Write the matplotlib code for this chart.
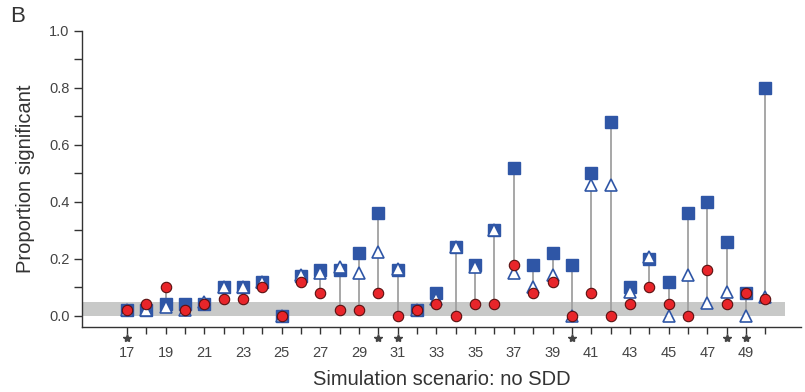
import numpy as np
import matplotlib.pyplot as plt
from matplotlib.ticker import MultipleLocator
import matplotlib.transforms as mtransforms

plt.rcParams['font.family'] = ['Liberation Sans', 'DejaVu Sans']

scenarios = list(range(17, 51))
# blue filled squares
squares = [0.02, 0.02, 0.04, 0.04, 0.04, 0.10, 0.10, 0.12, 0.00, 0.14,
           0.16, 0.16, 0.22, 0.36, 0.16, 0.02, 0.08, 0.24, 0.18, 0.30,
           0.52, 0.18, 0.22, 0.18, 0.50, 0.68, 0.10, 0.20, 0.12, 0.36,
           0.40, 0.26, 0.08, 0.80]
# open triangles
triangles = [0.02, 0.02, 0.03, 0.02, 0.05, 0.10, 0.10, 0.12, 0.00, 0.145,
             0.15, 0.17, 0.15, 0.225, 0.165, 0.02, 0.06, 0.24, 0.17, 0.30,
             0.15, 0.10, 0.145, 0.00, 0.46, 0.46, 0.085, 0.205, 0.00, 0.145,
             0.045, 0.085, 0.00, 0.065]
# red circles
circles = [0.02, 0.04, 0.10, 0.02, 0.04, 0.06, 0.06, 0.10, 0.00, 0.12,
           0.08, 0.02, 0.02, 0.08, 0.00, 0.02, 0.04, 0.00, 0.04, 0.04,
           0.18, 0.08, 0.12, 0.00, 0.08, 0.00, 0.04, 0.10, 0.04, 0.00,
           0.16, 0.04, 0.08, 0.06]
starred = [17, 30, 31, 40, 48, 49]

band_top = 0.047

fig = plt.figure(figsize=(8.05, 3.92), dpi=100)
ax = fig.add_axes([0.102, 0.166, 0.893, 0.755])

ax.fill_between([14.0, 51.0], 0, band_top, color='#c8c9c8', lw=0, zorder=0)

lo = np.minimum(np.minimum(squares, triangles), circles)
hi = np.maximum(np.maximum(squares, triangles), circles)
ax.vlines(scenarios, lo, hi, color='#a0a0a0', lw=1.3, zorder=1)

ax.plot(scenarios, squares, 's', ms=8, color='#2f56a6', mec='#2f56a6', zorder=2)
ax.plot(scenarios, triangles, '^', ms=8.5, mfc='white', mec='#2f56a6', mew=1.2, zorder=3)
ax.plot(scenarios, circles, 'o', ms=7.5, mfc='#e8252a', mec='#5a1010', mew=0.8, zorder=4)

# stars under selected scenarios
trans = mtransforms.blended_transform_factory(ax.transData, ax.transAxes)
ax.plot(starred, [-0.037] * len(starred), '*', ms=6, color='#444444',
        transform=trans, clip_on=False, zorder=5)

ax.set_xlim(14.69, 51.84)
ax.set_ylim(-0.039, 1.0)
ax.spines['top'].set_visible(False)
ax.spines['right'].set_visible(False)
for s in ['left', 'bottom']:
    ax.spines[s].set_color('#333333')
    ax.spines[s].set_linewidth(1.0)

ax.set_xticks(scenarios)
ax.set_xticklabels([str(s) if s % 2 == 1 and s < 50 else '' for s in scenarios])
ax.set_yticks(np.arange(0, 1.01, 0.2))
ax.set_yticklabels(['%.1f' % v for v in np.arange(0, 1.01, 0.2)])
ax.yaxis.set_minor_locator(MultipleLocator(0.1))
ax.tick_params(axis='x', length=5, width=1, color='#333333', pad=9,
               labelsize=10.5, labelcolor='#444444')
ax.tick_params(axis='y', which='both', length=6, width=1, color='#333333', pad=3,
               labelsize=10.5, labelcolor='#444444')

ax.set_xlabel('Simulation scenario: no SDD', fontsize=14.5, color='#333333', labelpad=7)
ax.set_ylabel('Proportion significant', fontsize=14.5, color='#333333', labelpad=10)

fig.text(0.013, 0.985, 'B', fontsize=16, color='#333333', va='top', ha='left')

fig.savefig('out.png', dpi=100)
